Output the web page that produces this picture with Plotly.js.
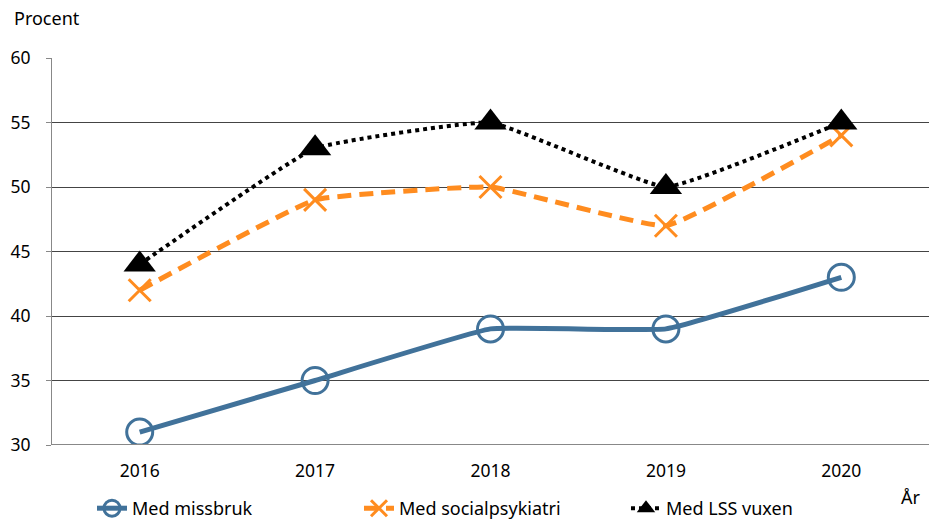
<!DOCTYPE html>
<html><head><meta charset="utf-8">
<script src="https://cdn.plot.ly/plotly-3.0.1.min.js"></script>
<style>body{margin:0;background:#fff}#c{width:929px;height:527px}</style>
</head><body><div id="c"></div>
<script>
const years = ['2016','2017','2018','2019','2020'];
const missbruk = [31, 35, 39, 39, 43];
const socialpsykiatri = [42, 49, 50, 47, 54];
const lssVuxen = [44, 53, 55, 50, 55];
const yTicks = [30, 35, 40, 45, 50, 55, 60];

const F = 'Noto Sans, sans-serif';
const traces = [
  {x: years, y: missbruk, name: 'Med missbruk', type: 'scatter', mode: 'lines+markers',
   line: {color: '#41729A', width: 5, shape: 'spline', smoothing: 0.3},
   marker: {symbol: 'circle-open', size: 26, color: '#41729A', line: {width: 3, color: '#41729A'}}},
  {x: years, y: socialpsykiatri, name: 'Med socialpsykiatri', type: 'scatter', mode: 'lines+markers',
   line: {color: '#FF8C1F', width: 5, dash: '14px,8px', shape: 'spline', smoothing: 0.3},
   marker: {symbol: 'x-thin-open', size: 22, color: '#FF8C1F', line: {width: 3, color: '#FF8C1F'}}},
  {x: years, y: lssVuxen, name: 'Med LSS vuxen', type: 'scatter', mode: 'lines+markers',
   line: {color: '#000000', width: 4, dash: 'dot', shape: 'spline', smoothing: 0.3},
   marker: {symbol: 'triangle-up', size: 28, color: '#000000'}}
];
const layout = {
  width: 929, height: 527,
  margin: {l: 52, r: 0, t: 58, b: 82},
  paper_bgcolor: '#fff', plot_bgcolor: '#fff',
  font: {family: F, size: 17.5, color: '#000'},
  showlegend: true,
  legend: {orientation: 'h', x: 0.0456, xref: 'paper', xanchor: 'left', y: -0.165, yanchor: 'middle',
           font: {family: F, size: 18}, entrywidth: 222, entrywidthmode: 'pixels', traceorder: 'normal'},
  xaxis: {type: 'category', range: [-0.5, 4.5], showgrid: false, zeroline: false,
          showline: false, ticks: '', tickfont: {family: F, size: 17.5}, ticklabelstandoff: 13},
  yaxis: {range: [30, 60], tickvals: yTicks, showgrid: true, gridcolor: '#444', gridwidth: 1,
          zeroline: false, showline: true, linecolor: '#888', linewidth: 1,
          ticks: 'outside', ticklen: 5, tickcolor: '#888', ticklabelstandoff: 12,
          tickfont: {family: F, size: 17.5}},
  shapes: [{type: 'line', xref: 'paper', yref: 'y', x0: 0, x1: 1, y0: 30, y1: 30, line: {color: '#888', width: 2}}],
  annotations: [
    {text: 'Procent', xref: 'paper', yref: 'paper', x: -0.0456, y: 1.103, xanchor: 'left', yanchor: 'middle', showarrow: false, font: {family: F, size: 18}},
    {text: 'År', xref: 'paper', yref: 'paper', x: 0.9795, y: -0.134, xanchor: 'center', yanchor: 'middle', showarrow: false, font: {family: F, size: 18}}
  ]
};
Plotly.newPlot('c', traces, layout, {displayModeBar: false});
</script></body></html>
